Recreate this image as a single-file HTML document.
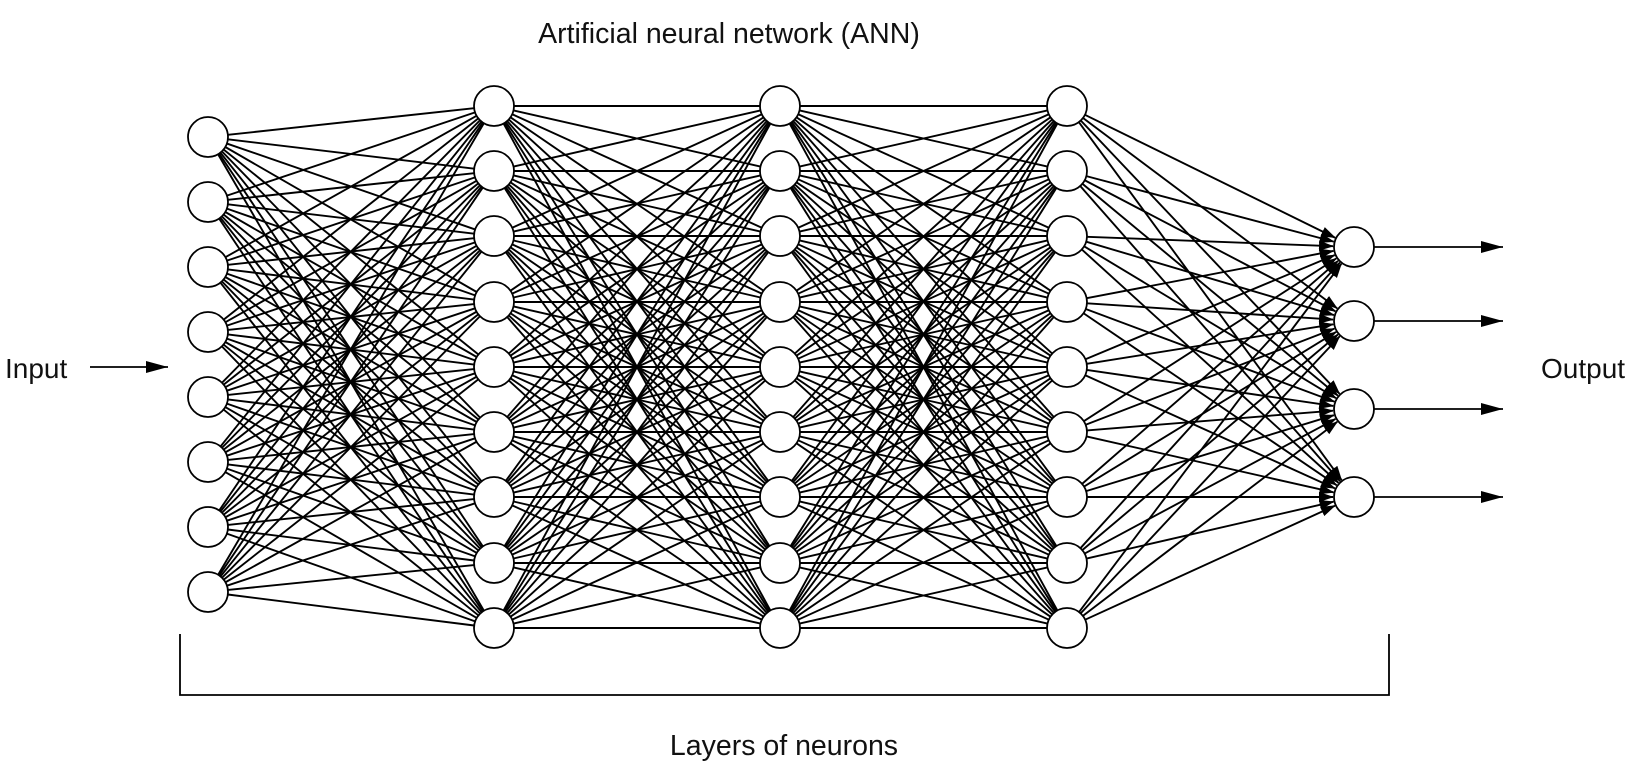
<!DOCTYPE html>
<html><head><meta charset="utf-8"><style>
html,body{margin:0;padding:0;background:#fff;width:1646px;height:768px;overflow:hidden}
svg{display:block}
text{font-family:"Liberation Sans",Arial,sans-serif;fill:#111}
</style></head><body>
<svg id="c" width="1646" height="768" viewBox="0 0 1646 768" xmlns="http://www.w3.org/2000/svg">
<defs>
<marker id="ah" markerWidth="15" markerHeight="10" refX="14" refY="5" orient="auto" markerUnits="userSpaceOnUse"><path d="M0,0 L15,5 L0,10 Z" fill="#000"/></marker>
<marker id="ob" markerWidth="22" markerHeight="12" refX="22" refY="6" orient="auto" markerUnits="userSpaceOnUse"><path d="M0,0 L22,6 L0,12 Z" fill="#000"/></marker>
</defs>
<text x="729" y="43" font-size="28.5" text-anchor="middle">Artificial neural network (ANN)</text>
<text x="5" y="378" font-size="28">Input</text>
<line x1="90" y1="367" x2="168" y2="367" stroke="#000" stroke-width="1.8" marker-end="url(#ob)"/>
<text x="1541" y="378" font-size="28">Output</text>
<path d="M180,634 V695 H1389 V634" fill="none" stroke="#000" stroke-width="1.8"/>
<text x="784" y="755" font-size="28.5" text-anchor="middle">Layers of neurons</text>
<g id="edges"></g>
<g id="nodes"></g>
</svg>
<script>
const layerX = [208, 494, 780, 1067, 1354];
const layerSizes = [8, 9, 9, 9, 4];
const inputY = [137,202,267,332,397,462,527,592];
const hiddenY = [106,171,236,302,367,432,497,563,628];
const outputY = [247,321,409,497];
const R = 20;
const ns = "http://www.w3.org/2000/svg";
const layersY = [inputY, hiddenY, hiddenY, hiddenY, outputY];
const eg = document.getElementById('edges');
const ng = document.getElementById('nodes');
for (let l = 0; l < layersY.length - 1; l++) {
  const A = layersY[l], B = layersY[l+1];
  const x1 = layerX[l], x2 = layerX[l+1];
  const isOut = l === layersY.length - 2;
  for (const ya of A) for (const yb of B) {
    const dx = x2 - x1, dy = yb - ya, d = Math.hypot(dx, dy);
    const ln = document.createElementNS(ns, 'line');
    
    
    ln.setAttribute('x1', x1 + dx / d * R);
    ln.setAttribute('y1', ya + dy / d * R);
    ln.setAttribute('x2', x2 - dx / d * (R + (isOut ? 1 : 0)));
    ln.setAttribute('y2', yb - dy / d * (R + (isOut ? 1 : 0)));
    ln.setAttribute('stroke', '#000');
    ln.setAttribute('stroke-width', '1.9');
    if (isOut) ln.setAttribute('marker-end', 'url(#ah)');
    eg.appendChild(ln);
  }
}
layersY.forEach((ys, l) => {
  ys.forEach(y => {
    const c = document.createElementNS(ns, 'circle');
    
    
    c.setAttribute('cx', layerX[l]);
    c.setAttribute('cy', y);
    c.setAttribute('r', R);
    c.setAttribute('fill', '#fff');
    c.setAttribute('stroke', '#000');
    c.setAttribute('stroke-width', '1.8');
    ng.appendChild(c);
  });
});
outputY.forEach(y => {
  const a = document.createElementNS(ns, 'line');
  
  
  a.setAttribute('x1', layerX[4] + R);
  a.setAttribute('y1', y);
  a.setAttribute('x2', 1503);
  a.setAttribute('y2', y);
  a.setAttribute('stroke', '#000');
  a.setAttribute('stroke-width', '1.8');
  a.setAttribute('marker-end', 'url(#ob)');
  ng.appendChild(a);
});
</script>
</body></html>
